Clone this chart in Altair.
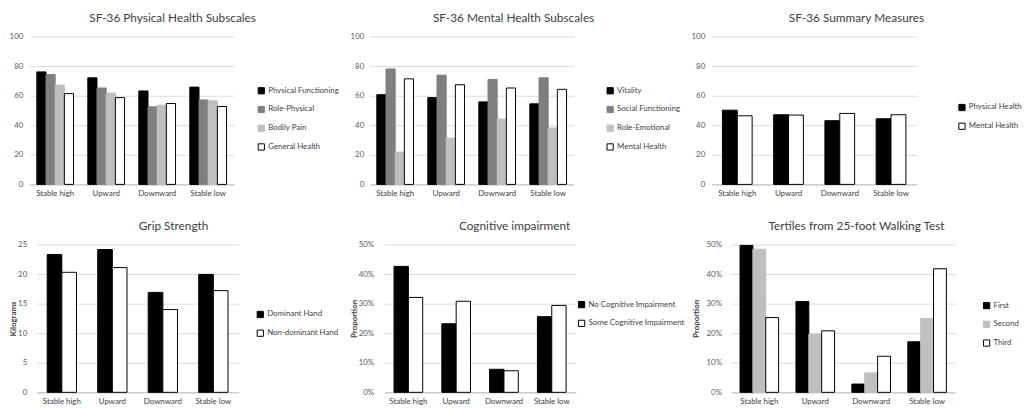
import altair as alt
import pandas as pd

FONT = "Lato"

categories = ["Stable high", "Upward", "Downward", "Stable low"]

# SF-36 Physical Health Subscales
phys_series = ["Physical Functioning", "Role-Physical", "Bodily Pain", "General Health"]
phys_pf = [76.1, 72.1, 63.2, 65.8]
phys_rp = [74.3, 65.2, 52.5, 57.1]
phys_bp = [67.2, 61.8, 53.6, 56.5]
phys_gh = [61.4, 58.7, 54.7, 52.7]

# SF-36 Mental Health Subscales
ment_series = ["Vitality", "Social Functioning", "Role-Emotional", "Mental Health"]
ment_v = [60.7, 58.7, 55.8, 54.5]
ment_sf = [78.1, 73.9, 71.0, 72.1]
ment_re = [21.9, 31.3, 44.2, 38.2]
ment_mh = [71.4, 67.4, 65.2, 64.3]

# SF-36 Summary Measures
summ_series = ["Physical Health", "Mental Health"]
summ_ph = [50.2, 47.1, 43.1, 44.4]
summ_mh = [46.4, 46.9, 48.0, 47.1]

# Grip Strength
grip_series = ["Dominant Hand", "Non-dominant Hand"]
grip_dom = [23.3, 24.15, 16.9, 19.95]
grip_non = [20.3, 21.1, 14.0, 17.2]

# Cognitive impairment
cog_series = ["No Cognitive Impairment", "Some Cognitive Impairment"]
cog_no = [0.426, 0.232, 0.078, 0.256]
cog_some = [0.321, 0.308, 0.073, 0.294]

# Tertiles from 25-foot Walking Test
walk_series = ["First", "Second", "Third"]
walk_first = [0.497, 0.307, 0.028, 0.171]
walk_second = [0.484, 0.197, 0.066, 0.250]
walk_third = [0.253, 0.208, 0.122, 0.418]

BLACK, DARK, LIGHT, WHITE = "#000000", "#7f7f7f", "#bfbfbf", "#ffffff"


def panel(title, series, values, fills, strokes, ydom, yvals, yfmt, ytitle,
          width, pin, pout, lx, ly, tdx, toff, lpad, ext, tpad):
    rows = []
    for s, vals in zip(series, values):
        for c, v in zip(categories, vals):
            rows.append({"cat": c, "series": s, "value": v})
    df = pd.DataFrame(rows)
    leg = alt.Legend(title=None, orient="none", legendX=lx, legendY=ly)
    return alt.Chart(df).mark_bar(strokeWidth=1).encode(
        x=alt.X("cat:N", sort=categories, title=None,
                scale=alt.Scale(paddingInner=pin, paddingOuter=pout),
                axis=alt.Axis(labelAngle=0, domain=True, ticks=False, grid=False,
                              domainColor="#bfbfbf", labelColor="#404040",
                              labelFontSize=8, labelPadding=5)),
        xOffset=alt.XOffset("series:N", sort=series,
                            scale=alt.Scale(paddingInner=0, paddingOuter=0)),
        y=alt.Y("value:Q", title=ytitle,
                scale=alt.Scale(domain=ydom, nice=False),
                axis=alt.Axis(values=yvals, format=yfmt, domain=False, ticks=False,
                              gridColor="#d9d9d9", labelColor="#595959",
                              labelFontSize=8, labelPadding=lpad,
                              minExtent=ext, maxExtent=ext,
                              titleFontSize=8, titleFontWeight="bold",
                              titleColor="#404040", titlePadding=tpad)),
        fill=alt.Fill("series:N", sort=series,
                      scale=alt.Scale(domain=series, range=fills), legend=leg),
        stroke=alt.Stroke("series:N", sort=series,
                          scale=alt.Scale(domain=series, range=strokes), legend=leg),
    ).properties(
        width=width, height=150,
        title=alt.TitleParams(title, fontSize=12, font=FONT, color="#404040",
                              fontWeight="normal", anchor="middle", frame="group",
                              dx=tdx, offset=toff),
    )


def spacer(w):
    return alt.Chart(pd.DataFrame({"s": [0]})).mark_point(opacity=0).properties(
        width=w, height=150)


p1 = panel("SF-36 Physical Health Subscales", phys_series,
           [phys_pf, phys_rp, phys_bp, phys_gh],
           [BLACK, DARK, LIGHT, WHITE], [BLACK, DARK, LIGHT, BLACK],
           [0, 100], [0, 20, 40, 60, 80, 100], "d", None,
           207, 0.28, 0.14, 231, 51, 41.5, 8, 7, 20, 2)
p2 = panel("SF-36 Mental Health Subscales", ment_series,
           [ment_v, ment_sf, ment_re, ment_mh],
           [BLACK, DARK, LIGHT, WHITE], [BLACK, DARK, LIGHT, BLACK],
           [0, 100], [0, 20, 40, 60, 80, 100], "d", None,
           207, 0.28, 0.14, 240, 51, 42.5, 8, 6, 20, 2)
p3 = panel("SF-36 Summary Measures", summ_series,
           [summ_ph, summ_mh],
           [BLACK, WHITE], [BLACK, BLACK],
           [0, 100], [0, 20, 40, 60, 80, 100], "d", None,
           208, 0.42, 0.21, 250, 68, 43, 8, 7, 20, 2)
p4 = panel("Grip Strength", grip_series,
           [grip_dom, grip_non],
           [BLACK, WHITE], [BLACK, BLACK],
           [0, 25], [0, 5, 10, 15, 20, 25], "d", "Kilograms",
           205, 0.42, 0.21, 223, 67, 36.5, 8, 10, 19, 0)
p5 = panel("Cognitive impairment", cog_series,
           [cog_no, cog_some],
           [BLACK, WHITE], [BLACK, BLACK],
           [0, 0.5], [0, 0.1, 0.2, 0.3, 0.4, 0.5], ".0%", "Proportion",
           194, 0.40, 0.20, 196, 57, 35, 8, 11, 24, 2)
p6 = panel("Tertiles from 25-foot Walking Test", walk_series,
           [walk_first, walk_second, walk_third],
           [BLACK, LIGHT, WHITE], [BLACK, LIGHT, BLACK],
           [0, 0.5], [0, 0.1, 0.2, 0.3, 0.4, 0.5], ".0%", "Proportion",
           227, 0.31, 0.155, 255, 58, 13.5, 8, 10, 25, 6)

indep = dict(x="independent", y="independent", fill="independent",
             stroke="independent", xOffset="independent")

row1 = alt.hconcat(p1, spacer(138), p2, spacer(140), p3, spacing=0,
                   bounds="flush").resolve_scale(**indep)
row2 = alt.hconcat(spacer(7), p4, spacer(148), p5, spacer(158), p6, spacing=0,
                   bounds="flush").resolve_scale(**indep)

chart = alt.vconcat(row1, row2, spacing=21).resolve_scale(**indep).properties(
    padding={"left": 0, "top": 0, "right": 5, "bottom": 5}
).configure_view(stroke="transparent").configure_axis(
    labelFont=FONT, titleFont=FONT
).configure_legend(
    labelFont=FONT, labelFontSize=8, labelColor="#404040", symbolType="square",
    symbolSize=40, symbolStrokeWidth=1, rowPadding=7, padding=0, labelOffset=3,
)

chart.save("out.html", embed_options={"renderer": "svg", "actions": False})
